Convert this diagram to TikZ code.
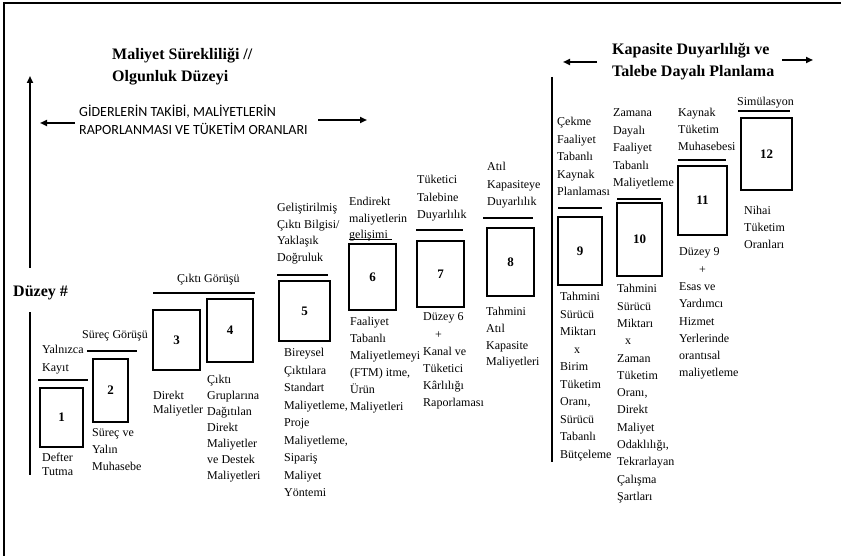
\documentclass[tikz,border=0pt]{standalone}
\usepackage{fontspec}
\setmainfont{Liberation Serif}
\newfontfamily\capsfont{Carlito}
\usetikzlibrary{arrows.meta}
\newcommand\myst{\rule{0pt}{11pt}}
\newcommand\mybst{\rule{0pt}{15pt}}
\newcommand\mycst{\rule{0pt}{14pt}}
\begin{document}
\begin{tikzpicture}[x=1pt,y=-1pt,
  txt/.style={font=\fontsize{12}{#1}\selectfont, align=left, inner sep=0pt, anchor=north west},
  txt/.default=17.3,
  one/.style={font=\fontsize{12}{14}\selectfont, inner sep=0pt, anchor=west},
  head/.style={font=\fontsize{16}{22}\selectfont\bfseries, align=left, inner sep=0pt, anchor=north west},
  caps/.style={font=\capsfont\fontsize{14}{18}\selectfont, align=left, inner sep=0pt, anchor=north west},
  box/.style={draw, line width=1.8pt, inner sep=0pt, font=\fontsize{13}{13}\selectfont\bfseries},
  bar/.style={line width=2.2pt},
  arr/.style={-{Triangle[length=7pt,width=6pt]}, line width=1.8pt},
  vline/.style={line width=1.8pt}
]
\useasboundingbox (0,0) rectangle (841,556);
% frame
\coordinate (fbl) at (4,556);
\coordinate (ftl) at (4,3);
\coordinate (ftr) at (841,3);
\draw[line width=1.5pt] (fbl) -- (ftl) -- (ftr);

% headings
\node[head] (h1) at (112,44.8) {\mybst Maliyet Sürekliliği //\\Olgunluk Düzeyi};
\node[head] (h2) at (612,39.8) {\mybst Kapasite Duyarlılığı ve\\Talebe Dayalı Planlama};
\node[caps] (h3) at (79,102.5) {\mycst GİDERLERİN TAKİBİ, MALİYETLERİN\\RAPORLANMASI VE TÜKETİM ORANLARI};
\node[font=\fontsize{16}{18}\selectfont\bfseries, inner sep=0pt, anchor=west] (dz) at (13,293) {Düzey \#};

% arrows
\coordinate (a1s) at (75,123); \coordinate (a1e) at (40,123);
\coordinate (a2s) at (318,120); \coordinate (a2e) at (367,120);
\coordinate (a3s) at (597,62); \coordinate (a3e) at (563,62);
\coordinate (a4s) at (782,60); \coordinate (a4e) at (813,60);
\coordinate (a5s) at (30,268); \coordinate (a5e) at (30,76);
\draw[arr] (a1s) -- (a1e);
\draw[arr] (a2s) -- (a2e);
\draw[arr] (a3s) -- (a3e);
\draw[arr] (a4s) -- (a4e);
\draw[arr] (a5s) -- (a5e);
\coordinate (v1s) at (30,312); \coordinate (v1e) at (30,475);
\coordinate (v2s) at (552,77); \coordinate (v2e) at (552,462);
\draw[vline] (v1s) -- (v1e);
\draw[vline] (v2s) -- (v2e);

% boxes
\node[box, minimum width=43pt, minimum height=59pt] (b1) at (61.5,417.5) {1};
\node[box, minimum width=35pt, minimum height=63pt] (b2) at (110.5,390.5) {2};
\node[box, minimum width=47pt, minimum height=60pt] (b3) at (176.5,340) {3};
\node[box, minimum width=46pt, minimum height=63pt] (b4) at (230,330.5) {4};
\node[box, minimum width=51pt, minimum height=60pt] (b5) at (304.5,311) {5};
\node[box, minimum width=47pt, minimum height=66pt] (b6) at (372.5,277) {6};
\node[box, minimum width=47pt, minimum height=66pt] (b7) at (440.5,274) {7};
\node[box, minimum width=47pt, minimum height=68pt] (b8) at (510.5,262) {8};
\node[box, minimum width=44pt, minimum height=68pt] (b9) at (580,251) {9};
\node[box, minimum width=45pt, minimum height=73pt] (b10) at (639.5,239.5) {10};
\node[box, minimum width=49pt, minimum height=69pt] (b11) at (702.5,200.5) {11};
\node[box, minimum width=51pt, minimum height=72pt] (b12) at (766.5,154) {12};

% bars
\coordinate (r1a) at (38,380); \coordinate (r1b) at (88,380);
\coordinate (r2a) at (87,351); \coordinate (r2b) at (137,351);
\coordinate (r3a) at (153,293); \coordinate (r3b) at (255,293);
\coordinate (r5a) at (277,275); \coordinate (r5b) at (328,275);
\coordinate (r6a) at (349,239.5); \coordinate (r6b) at (392,239.5);
\coordinate (r7a) at (416,230); \coordinate (r7b) at (463,230);
\coordinate (r8a) at (483,218); \coordinate (r8b) at (533,218);
\coordinate (r9a) at (558,208); \coordinate (r9b) at (602,208);
\coordinate (r10a) at (617,199); \coordinate (r10b) at (661,199);
\coordinate (r11a) at (678,160); \coordinate (r11b) at (726,160);
\coordinate (r12a) at (738,111); \coordinate (r12b) at (790,111);
\foreach \i in {1,2,3,5,7,8,9,10,11,12} \draw[bar] (r\i a) -- (r\i b);
\draw[line width=1.2pt] (r6a) -- (r6b);

% labels
\node[txt=18] (t1) at (42,342.6) {\myst Yalnızca\\Kayıt};
\node[one] (t2) at (82,336) {Süreç Görüşü};
\node[one] (t3) at (177,280) {Çıktı Görüşü};
\node[txt=14] (t4) at (42,450.6) {\myst Defter\\Tutma};
\node[txt=17] (t5) at (92,425.6) {\myst Süreç ve\\Yalın\\Muhasebe};
\node[txt=14] (t6) at (153,388.6) {\myst Direkt\\Maliyetler};
\node[txt=16] (t7) at (207,372.6) {\myst Çıktı\\Gruplarına\\Dağıtılan\\Direkt\\Maliyetler\\ve Destek\\Maliyetleri};
\node[txt=16.5] (t8) at (277,200.6) {\myst Geliştirilmiş\\Çıktı Bilgisi/\\Yaklaşık\\Doğruluk};
\node[txt=17.5] (t9) at (284,345.6) {\myst Bireysel\\Çıktılara\\Standart\\Maliyetleme,\\Proje\\Maliyetleme,\\Sipariş\\Maliyet\\Yöntemi};
\node[txt=16.5] (t10) at (349,194.6) {\myst Endirekt\\maliyetlerin\\gelişimi};
\node[txt=17] (t11) at (350,314.6) {\myst Faaliyet\\Tabanlı\\Maliyetlemeyi\\(FTM) itme,\\Ürün\\Maliyetleri};
\node[txt=17.5] (t12) at (417,172.6) {\myst Tüketici\\Talebine\\Duyarlılık};
\node[txt=17.2] (t13) at (423,309.6) {\myst Düzey 6\\\hspace*{12pt}+\\Kanal ve\\Tüketici\\Kârlılığı\\Raporlaması};
\node[txt=17.5] (t14) at (487,159.6) {\myst Atıl\\Kapasiteye\\Duyarlılık};
\node[txt=16.7] (t15) at (486,304.6) {\myst Tahmini\\Atıl\\Kapasite\\Maliyetleri};
\node[txt=17.5] (t16) at (557,114.6) {\myst Çekme\\Faaliyet\\Tabanlı\\Kaynak\\Planlaması};
\node[txt=17.5] (t17) at (613,105.6) {\myst Zamana\\Dayalı\\Faaliyet\\Tabanlı\\Maliyetleme};
\node[txt=17] (t18) at (678,105.6) {\myst Kaynak\\Tüketim\\Muhasebesi};
\node[one] (t19) at (737,103) {Simülasyon};
\node[txt=17] (t20) at (744,203.6) {\myst Nihai\\Tüketim\\Oranları};
\node[txt=17.5] (t21) at (560,289.6) {\myst Tahmini\\Sürücü\\Miktarı\\\hspace*{14pt}x\\Birim\\Tüketim\\Oranı,\\Sürücü\\Tabanlı\\Bütçeleme};
\node[txt=17.3] (t22) at (617,281.6) {\myst Tahmini\\Sürücü\\Miktarı\\\hspace*{8pt}x\\Zaman\\Tüketim\\Oranı,\\Direkt\\Maliyet\\Odaklılığı,\\Tekrarlayan\\Çalışma\\Şartları};
\node[txt=17.3] (t23) at (679,244.6) {\myst Düzey 9\\\hspace*{20pt}+\\Esas ve\\Yardımcı\\Hizmet\\Yerlerinde\\orantısal\\maliyetleme};
\end{tikzpicture}
\end{document}
